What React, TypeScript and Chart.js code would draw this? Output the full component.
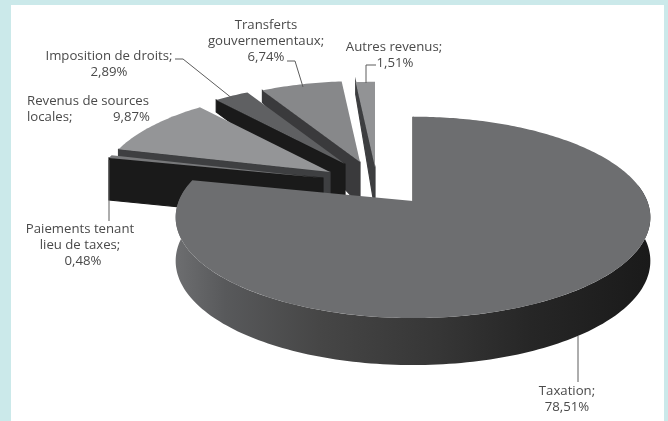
import React, { useEffect, useRef } from "react";
import { Chart, registerables } from "chart.js";

Chart.register(...registerables);

// ---- data (clockwise from 12 o'clock)
const categories = ["Taxation", "Paiements tenant lieu de taxes", "Revenus de sources locales", "Imposition de droits", "Transferts gouvernementaux", "Autres revenus"];
const shares = [78.51, 0.48, 9.87, 2.89, 6.74, 1.51];
const faceColors = ["#6d6e70", "#77787a", "#949597", "#5f6062", "#87888a", "#929395"];
const wallColors = ["#2a2a2a", "#1a1a1a", "#3e3f41", "#1a1a1a", "#3a3a3c", "#3d3e40"];

// ---- 3D layout of the exploded pie (apex of each slice, size factor)
const apexes: [number, number][] = [[413, 201], [323, 178], [330, 172], [345, 164], [360, 162], [375, 167]];
const sliceScale = [0.99, 0.96, 0.96, 0.95, 0.95, 1];
const drawOrder = [5, 4, 3, 2, 1, 0];
const KEYSTONE = 0.1625;
const X_STRETCH = 236 / 210;
const Y_STRETCH = 98.8 / 210;

// ---- text & leader lines
type Lbl = { t: string; x: number; y: number; a: CanvasTextAlign };
const pct = (i: number) => shares[i].toFixed(2).replace(".", ",") + "%";
const labels: Lbl[] = [
  { t: "Transferts", x: 266, y: 25, a: "center" },
  { t: "gouvernementaux;", x: 266, y: 41, a: "center" },
  { t: pct(4), x: 266, y: 57, a: "center" },
  { t: "Imposition de droits;", x: 109, y: 56, a: "center" },
  { t: pct(3), x: 109, y: 72, a: "center" },
  { t: "Autres revenus;", x: 394, y: 47, a: "center" },
  { t: pct(5), x: 395, y: 63, a: "center" },
  { t: "Revenus de sources", x: 27, y: 101, a: "left" },
  { t: "locales;", x: 27, y: 117, a: "left" },
  { t: pct(2), x: 150, y: 117, a: "right" },
  { t: "Paiements tenant", x: 80, y: 229, a: "center" },
  { t: "lieu de taxes;", x: 80, y: 245, a: "center" },
  { t: pct(1), x: 83, y: 261, a: "center" },
  { t: "Taxation;", x: 567, y: 391, a: "center" },
  { t: pct(0), x: 567, y: 407, a: "center" },
];
const leaders: [number, number][][] = [
  [[175, 59], [183, 59], [233, 99]],
  [[287, 61], [295, 61], [303, 87]],
  [[376, 65], [366, 65], [366, 83]],
  [[109, 160], [109, 221]],
  [[578, 336], [578, 382]],
];

const depth = (v: number) => {
  if (v <= -0.7) return 12;
  if (v <= -0.25) return 12 + ((v + 0.7) / 0.45) * 30;
  return 42 + ((v + 0.25) / 1.25) * 5;
};

const pie3d = {
  id: "pie3d",
  beforeDatasetsDraw(chart: any) {
    const ctx: CanvasRenderingContext2D = chart.ctx;
    const arcs = chart.getDatasetMeta(0).data;
    const proj = (i: number, R: number, u: number, v: number): [number, number] => {
      const s = 1 / (1 - KEYSTONE * v);
      const k = sliceScale[i];
      return [apexes[i][0] + R * X_STRETCH * k * u * s, apexes[i][1] + R * Y_STRETCH * k * v * s];
    };
    const poly = (pts: [number, number][], fill: any, stroke?: any) => {
      ctx.beginPath();
      pts.forEach((p, n) => (n ? ctx.lineTo(p[0], p[1]) : ctx.moveTo(p[0], p[1])));
      ctx.closePath();
      ctx.fillStyle = fill;
      ctx.fill();
      if (stroke) {
        ctx.strokeStyle = stroke;
        ctx.lineWidth = 1.2;
        ctx.stroke();
      }
    };
    for (const i of drawOrder) {
      const { startAngle, endAngle, outerRadius: R } = arcs[i].getProps(["startAngle", "endAngle", "outerRadius"], true);
      const radialWall = (ang: number) => {
        const u = Math.cos(ang), v = Math.sin(ang);
        const out = proj(i, R, u, v), ap = proj(i, R, 0, 0);
        poly([out, ap, [ap[0], ap[1] + depth(0)], [out[0], out[1] + depth(v)]], wallColors[i], wallColors[i]);
      };
      // the side wall that faces the viewer
      radialWall(startAngle);
      // the round outer wall of the slice, front part only
      const steps = 160;
      const a0 = Math.max(startAngle, -Math.asin(KEYSTONE));
      const a1 = Math.min(endAngle, Math.PI + Math.asin(KEYSTONE));
      if (a1 > a0) {
        const topE: [number, number][] = [];
        const botE: [number, number][] = [];
        for (let n = 0; n <= steps; n++) {
          const a = a0 + ((a1 - a0) * n) / steps;
          const v = Math.sin(a);
          const p = proj(i, R, Math.cos(a), v);
          topE.push(p);
          botE.unshift([p[0], p[1] + depth(v)]);
        }
        const g = ctx.createLinearGradient(178, 0, 650, 0);
        g.addColorStop(0, "#6c6d6f");
        g.addColorStop(0.1, "#58595b");
        g.addColorStop(0.3, "#464646");
        g.addColorStop(0.55, "#363636");
        g.addColorStop(0.75, "#262626");
        g.addColorStop(1, "#1a1a1a");
        poly([...topE, ...botE], g);
      }
      // top face
      const face: [number, number][] = [proj(i, R, 0, 0)];
      const n2 = Math.max(8, Math.round((endAngle - startAngle) * 60));
      for (let n = 0; n <= n2; n++) {
        const a = startAngle + ((endAngle - startAngle) * n) / n2;
        face.push(proj(i, R, Math.cos(a), Math.sin(a)));
      }
      poly(face, arcs[i].options.backgroundColor);
    }
    return false;
  },
  afterDraw(chart: any) {
    const ctx: CanvasRenderingContext2D = chart.ctx;
    ctx.save();
    ctx.strokeStyle = "#5c5c5c";
    ctx.lineWidth = 1;
    for (const l of leaders) {
      ctx.beginPath();
      l.forEach((p, n) => (n ? ctx.lineTo(p[0], p[1]) : ctx.moveTo(p[0], p[1])));
      ctx.stroke();
    }
    ctx.fillStyle = "#4a4a4a";
    ctx.font = '13.2px "Open Sans", Lato, sans-serif';
    ctx.textBaseline = "middle";
    for (const l of labels) {
      ctx.textAlign = l.a;
      ctx.fillText(l.t, l.x, l.y);
    }
    ctx.restore();
  },
};

export default function App() {
  const ref = useRef<HTMLCanvasElement>(null);
  useEffect(() => {
    const chart = new Chart(ref.current!, {
      type: "pie",
      data: {
        labels: categories,
        datasets: [{ data: shares, backgroundColor: faceColors, borderWidth: 0 }],
      },
      options: {
        responsive: false,
        animation: false,
        layout: { padding: 0 },
        plugins: { legend: { display: false }, tooltip: { enabled: false } },
      },
      plugins: [pie3d],
    } as any);
    return () => chart.destroy();
  }, []);
  return (
    <div style={{ position: "fixed", left: 0, top: 0, width: 668, height: 421, background: "#cbe9ea", overflow: "hidden" }}>
      <div style={{ position: "absolute", left: 11, top: 5, width: 653, height: 416, background: "#ffffff" }} />
      <canvas ref={ref} width={668} height={421} style={{ position: "absolute", left: 0, top: 0, filter: "blur(0.4px)" }} />
    </div>
  );
}
